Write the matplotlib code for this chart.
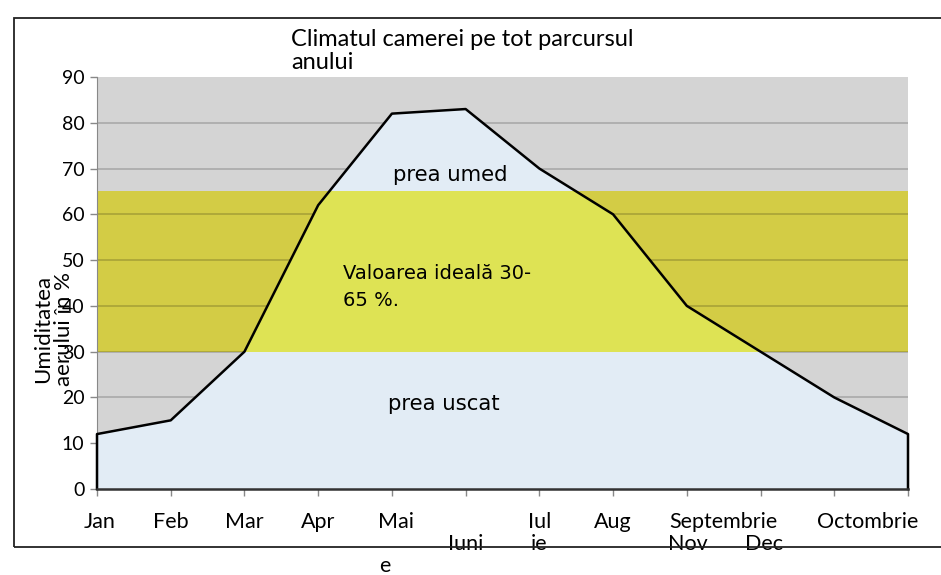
import matplotlib
matplotlib.use("Agg")
import matplotlib.pyplot as plt
import numpy as np
from matplotlib.patches import Rectangle

# monthly humidity values (%)
months = ["Jan", "Feb", "Mar", "Apr", "Mai", "Iunie", "Iulie", "Aug",
          "Septembrie", "Octombrie", "Nov", "Dec"]
humidity = [12, 15, 30, 62, 82, 83, 70, 60, 40, 30, 20, 12]
ideal_low, ideal_high = 30, 65
yticks = [0, 10, 20, 30, 40, 50, 60, 70, 80, 90]

# category labels as the original renders them (wrapped / shifted)
xlabels_row1 = [("Jan", 0.03), ("Feb", 1.0), ("Mar", 2.0), ("Apr", 3.0), ("Mai", 4.05),
                ("Iul", 6.0), ("Aug", 7.0), ("Septembrie", 8.5), ("Octombrie", 10.45)]
xlabels_row2 = [("Iuni", 5.0), ("ie", 6.0), ("Nov", 8.02), ("Dec", 9.05)]

label_font = ["Lato", "DejaVu Sans"]
inner_font = ["DejaVu Sans"]

c_gray = "#d4d4d4"
c_olive = "#d3cc45"
c_bright = "#dee354"
c_blue = "#e2ecf5"

fig = plt.figure(figsize=(9.41, 5.75), dpi=100)
ax = fig.add_axes([97 / 941, 1 - 489 / 575, (908 - 97) / 941, (489 - 77) / 575])

x = np.arange(len(months))
y = np.array(humidity, dtype=float)

ax.set_facecolor(c_gray)
ax.axhspan(ideal_low, ideal_high, color=c_olive, zorder=0, lw=0)
for t in yticks[1:-1]:
    ax.axhline(t, color="black", alpha=0.2, lw=1.2, zorder=1)

area = ax.fill_between(x, 0, y, color=c_blue, zorder=2, lw=0)
# ideal band only where it lies under the curve
band = ax.axhspan(ideal_low, ideal_high, color=c_bright, zorder=3, lw=0)
band.set_clip_path(area.get_paths()[0], transform=ax.transData)

# outline of the area
ax.plot(np.r_[x[0], x, x[-1]], np.r_[0, y, 0], color="black", lw=1.8, zorder=4,
        clip_on=False)
ax.plot([x[0], x[-1]], [0, 0], color="#333333", lw=1.8, zorder=4, clip_on=False)

ax.set_xlim(0, len(months) - 1)
ax.set_ylim(0, 90)
ax.set_yticks(yticks)
ax.set_yticklabels([str(t) for t in yticks], family=label_font, fontsize=14)
ax.set_xticks(x)
ax.set_xticklabels([])
ax.tick_params(axis="both", direction="out", length=5, color="#888888", width=1)
ax.tick_params(axis="y", pad=4)
for s in ["top", "right"]:
    ax.spines[s].set_visible(False)
ax.spines["left"].set_color("#888888")
ax.spines["bottom"].set_color("#888888")

tr = ax.get_xaxis_transform()
for lab, pos in xlabels_row1:
    ax.text(pos, -0.080, lab, transform=tr, ha="center", va="center",
            family=label_font, fontsize=15.5)
for lab, pos in xlabels_row2:
    ax.text(pos, -0.134, lab, transform=tr, ha="center", va="center",
            family=label_font, fontsize=15.5)
ax.text(3.9, -0.187, "e", transform=tr, ha="center", va="center",
        family=label_font, fontsize=15.5)

# region labels
ax.text(4.79, 68.6, "prea umed", ha="center", va="center", family=inner_font,
        fontsize=15.3, zorder=5)
ax.text(3.34, 44.2, "Valoarea ideală 30-\n65 %.", ha="left", va="center",
        family=inner_font, fontsize=14, linespacing=1.55, zorder=5)
ax.text(4.7, 18.6, "prea uscat", ha="center", va="center", family=inner_font,
        fontsize=15.3, zorder=5)

# title and y label
fig.text(291 / 941, 1 - 51 / 575, "Climatul camerei pe tot parcursul\nanului",
         ha="left", va="center", family=label_font, fontsize=17, linespacing=1.06)
fig.text(54 / 941, 1 - 329 / 575, "Umiditatea\naerului în %", rotation=90,
         ha="center", va="center", family=label_font, fontsize=16,
         multialignment="center", linespacing=1.05)

# chart frame
fig.patches.append(Rectangle((14 / 941, 1 - 547 / 575), 1.0, (547 - 18) / 575,
                             transform=fig.transFigure, fill=False,
                             edgecolor="#222222", lw=1.3))

fig.savefig("out.png", dpi=100)
